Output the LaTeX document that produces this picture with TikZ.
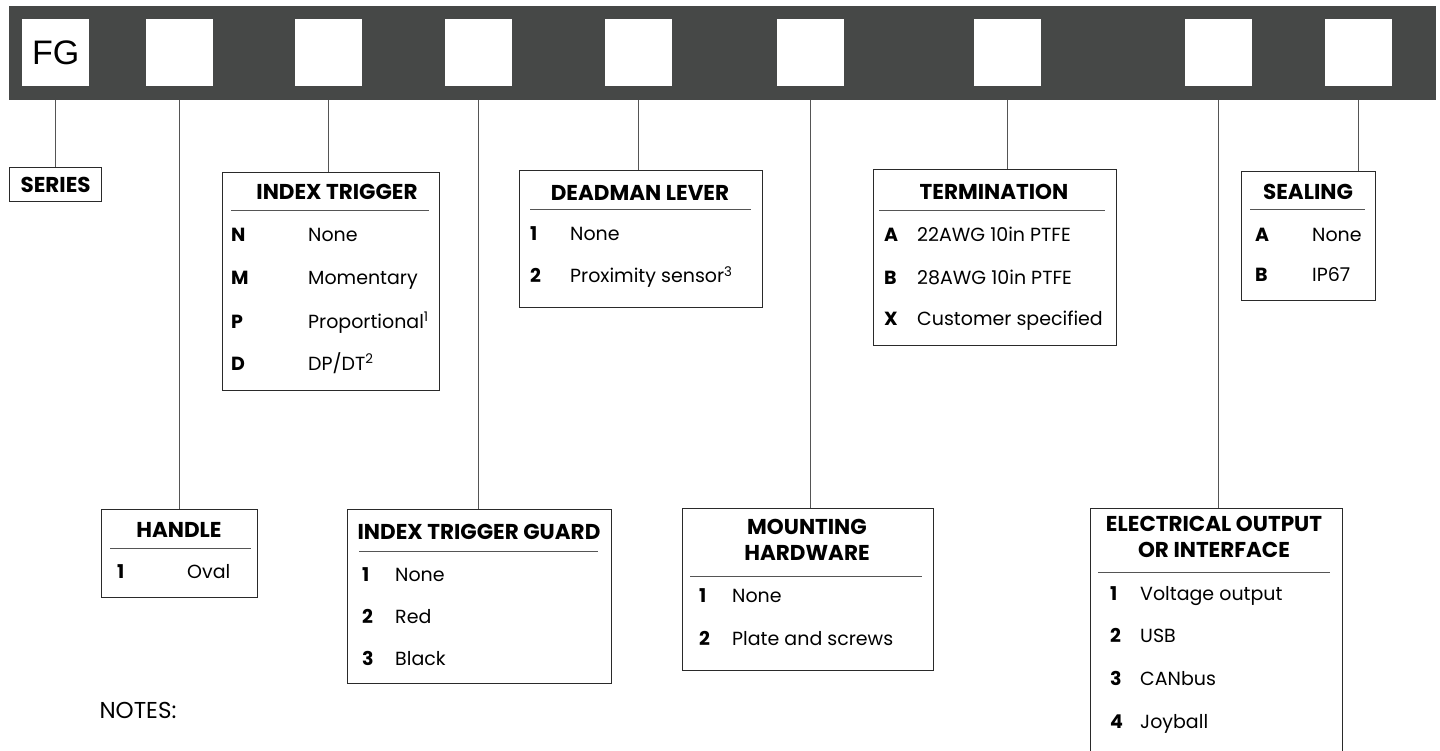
\documentclass[tikz,border=0pt]{standalone}
\usepackage{fontspec}
\setmainfont{Poppins}
\newfontfamily\codefont{Liberation Sans}
\usetikzlibrary{positioning}
\definecolor{barc}{HTML}{464847}
\definecolor{ink}{HTML}{2A2A2A}
\definecolor{wire}{HTML}{555555}
\newcommand\bodysize{\fontsize{19}{26}\selectfont}
\newcommand\headsize{\fontsize{21.5}{26}\selectfont}
\tikzset{
  codebar/.style={fill=barc,minimum width=1427pt,minimum height=94pt,inner sep=0pt,anchor=north west},
  slot/.style={fill=white,minimum size=67pt,inner sep=0pt,anchor=north west},
  box/.style={draw=ink,line width=1.2pt,anchor=north west,inner sep=0pt,fill=white},
  head/.style={font=\headsize\bfseries,align=center,inner sep=0pt},
  key/.style={font=\bodysize\bfseries,anchor=base west,inner sep=0pt},
  item/.style={font=\bodysize,anchor=base west,inner sep=0pt},
  rule/.style={draw=wire,line width=1pt},
  link/.style={draw=wire,line width=1.4pt}
}

\begin{document}
\begin{tikzpicture}[x=1pt,y=-1pt,font=\bodysize]
  \useasboundingbox (0,0) rectangle (1440,751);
  \clip (0,0) rectangle (1440,751);
  % ordering code bar
  \node[codebar] (bar) at (9,6) {};
  \foreach \n/\xx in {1/22,2/146,3/295,4/445,5/605,6/777,7/974,8/1185,9/1325}
    \node[slot] (s\n) at (\xx,19) {};
  \node[font=\codefont\fontsize{34}{34}\selectfont] (fg) at (s1.center) {FG};

  % series
  \node[box,minimum width=92pt,minimum height=34pt,font=\headsize\bfseries] (series) at (9,167) {SERIES};

  % handle
  \node[box,minimum width=156pt,minimum height=88pt] (hdl) at (101,509) {};
  \node[head] (hdlH) at (179,530) {HANDLE};
  \draw[rule] (110,548) -- (251,548);
  \node[key] (hdlK) at (117,578) {1};
  \node[item] (hdlT) at (187,578) {Oval};

  % index trigger
  \node[box,minimum width=217pt,minimum height=218pt] (trig) at (222,172) {};
  \node[head] (trigH) at (337,192) {INDEX TRIGGER};
  \draw[rule] (231,211) -- (429,211);
  \foreach \k/\t/\yy in {N/None/236,M/Momentary/279,P/{Proportional\textsuperscript{1}}/322,D/{DP/DT\textsuperscript{2}}/364}{
    \node[key] at (231,\yy+6) {\k};
    \node[item] at (308,\yy+6) {\t};
  }

  % index trigger guard
  \node[box,minimum width=264pt,minimum height=174pt] (guard) at (347,509) {};
  \node[head] (guardH) at (479,532) {INDEX TRIGGER GUARD};
  \draw[rule] (359,551) -- (598,551);
  \foreach \k/\t/\yy in {1/None/575,2/Red/617,3/Black/659}{
    \node[key] at (362,\yy+6) {\k};
    \node[item] at (395,\yy+6) {\t};
  }

  % deadman lever
  \node[box,minimum width=243pt,minimum height=137pt] (dead) at (519,170) {};
  \node[head] (deadH) at (640,193) {DEADMAN LEVER};
  \draw[rule] (530,210) -- (751,210);
  \foreach \k/\t/\yy in {1/None/235,2/{Proximity sensor\textsuperscript{3}}/277}{
    \node[key] at (530,\yy+6) {\k};
    \node[item] at (570,\yy+6) {\t};
  }

  % mounting hardware
  \node[box,minimum width=251pt,minimum height=162pt] (mount) at (682,508) {};
  \node[head] (mountH) at (807,540) {MOUNTING\\HARDWARE};
  \draw[rule] (690,576) -- (922,576);
  \foreach \k/\t/\yy in {1/None/596,2/Plate and screws/639}{
    \node[key] at (699,\yy+6) {\k};
    \node[item] at (732,\yy+6) {\t};
  }

  % termination
  \node[box,minimum width=243pt,minimum height=176pt] (term) at (873,169) {};
  \node[head] (termH) at (994,192) {TERMINATION};
  \draw[rule] (879,211) -- (1105,211);
  \foreach \k/\t/\yy in {A/22AWG 10in PTFE/236,B/28AWG 10in PTFE/278,X/Customer specified/320}{
    \node[key] at (884,\yy+6) {\k};
    \node[item] at (917,\yy+6) {\t};
  }

  % electrical output
  \node[box,minimum width=252pt,minimum height=280pt] (elec) at (1090,508) {};
  \node[head] (elecH) at (1214,537) {ELECTRICAL OUTPUT\\OR INTERFACE};
  \draw[rule] (1098,572) -- (1330,572);
  \foreach \k/\t/\yy in {1/Voltage output/594,2/USB/636,3/CANbus/679,4/Joyball/722}{
    \node[key] at (1110,\yy+6) {\k};
    \node[item] at (1140,\yy+6) {\t};
  }

  % sealing
  \node[box,minimum width=134pt,minimum height=129pt] (seal) at (1241,171) {};
  \node[head] (sealH) at (1308,192) {SEALING};
  \draw[rule] (1250,210) -- (1365,210);
  \foreach \k/\t/\yy in {A/None/236,B/IP67/276}{
    \node[key] at (1255,\yy+6) {\k};
    \node[item] at (1312,\yy+6) {\t};
  }

  \node[anchor=west,font=\fontsize{23}{26}\selectfont] (notes) at (96,710) {NOTES:};

  % connectors
  \draw[link] (s1 |- bar.south) -- (s1 |- series.north);
  \draw[link] (s2 |- bar.south) -- (s2 |- hdl.north);
  \draw[link] (s3 |- bar.south) -- (s3 |- trig.north);
  \draw[link] (s4 |- bar.south) -- (s4 |- guard.north);
  \draw[link] (s5 |- bar.south) -- (s5 |- dead.north);
  \draw[link] (s6 |- bar.south) -- (s6 |- mount.north);
  \draw[link] (s7 |- bar.south) -- (s7 |- term.north);
  \draw[link] (s8 |- bar.south) -- (s8 |- elec.north);
  \draw[link] (s9 |- bar.south) -- (s9 |- seal.north);
\end{tikzpicture}
\end{document}
